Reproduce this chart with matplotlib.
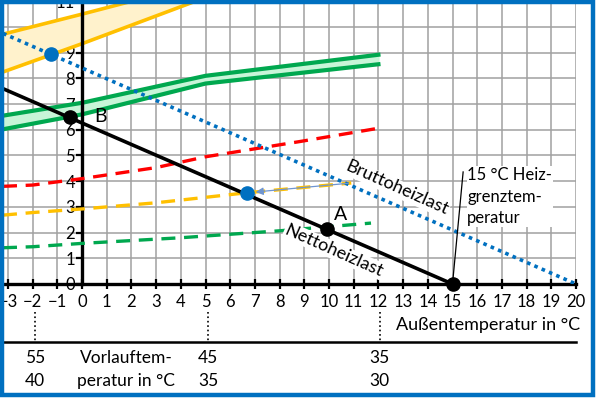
import matplotlib.pyplot as plt
from matplotlib.patches import Rectangle

# Außentemperatur-Achse und Werte
netto_x = [-3.2, 15]
netto_y = [7.6, 0]
brutto_x = [-3.2, 20]
brutto_y = [9.75, 0]

gruen_band_x = [-3.2, 0, 5, 12]
gruen_oben = [6.55, 7.05, 8.1, 8.92]
gruen_unten = [6.02, 6.6, 7.8, 8.55]

gelb_band_x = [-3.2, 0, 5]
gelb_oben = [9.72, 10.5, 11.75]
gelb_unten = [8.25, 9.35, 11.15]

rot_x = [-3.2, -2, 0, 3, 5, 8.8, 12]
rot_y = [3.8, 3.85, 4.1, 4.53, 4.95, 5.54, 6.06]

gelb_x = [-3.2, -2, 0, 3, 6.67, 10.9]
gelb_y = [2.68, 2.78, 2.92, 3.16, 3.55, 3.93]

gruen_x = [-3.2, -2, 0, 4, 8, 11.7]
gruen_y = [1.41, 1.45, 1.58, 1.8, 2.07, 2.37]

punkte_schwarz_x = [-0.5, 9.9, 15]
punkte_schwarz_y = [6.48, 2.13, 0]
punkte_blau_x = [-1.25, 6.67]
punkte_blau_y = [8.93, 3.55]

vorlauf_x = [-1.9, 5.1, 12.05]
vorlauf_oben = ["55", "45", "35"]
vorlauf_unten = ["40", "35", "30"]

plt.rcParams['font.family'] = ['Lato', 'DejaVu Sans']

W, H = 597, 398
fig = plt.figure(figsize=(W / 100, H / 100), dpi=100)
ax = fig.add_axes([3 / W, (H - 284) / H, 573 / W, 284 / H])
ax.set_xlim(-3.2, 20)
ax.set_ylim(0, 11.05)

ax.set_xticks(range(-3, 21))
ax.set_yticks(range(0, 12))
ax.grid(True, color='#a0a0a0', lw=1.1, zorder=0)
ax.set_axisbelow(True)

for s in ['top', 'right']:
    ax.spines[s].set_visible(False)
ax.spines['left'].set_position(('data', 0))
ax.spines['left'].set_linewidth(2.4)
ax.spines['bottom'].set_linewidth(2.4)
ax.tick_params(axis='x', direction='inout', length=7, width=1.6, labelsize=12, pad=4)
ax.tick_params(axis='y', direction='out', length=4, width=1.6, labelsize=12, pad=1)

# Bänder
ax.fill_between(gelb_band_x, gelb_unten, gelb_oben, color='#fff2cc', zorder=1)
ax.plot(gelb_band_x, gelb_oben, color='#ffc000', lw=2.6, zorder=2)
ax.plot(gelb_band_x, gelb_unten, color='#ffc000', lw=2.6, zorder=2)
ax.fill_between(gruen_band_x, gruen_unten, gruen_oben, color='#c8f5d8', zorder=1)
ax.plot(gruen_band_x, gruen_oben, color='#00a84f', lw=3.0, zorder=2)
ax.plot(gruen_band_x, gruen_unten, color='#00a84f', lw=3.0, zorder=2)

# gestrichelte Linien
ax.plot(rot_x, rot_y, color='#ff0000', lw=2.4, ls=(0, (4.2, 2.6)), zorder=3)
ax.plot(gelb_x, gelb_y, color='#ffc000', lw=2.4, ls=(0, (4.2, 2.6)), zorder=3)
ax.plot(gruen_x, gruen_y, color='#00a84f', lw=2.4, ls=(0, (4.2, 2.6)), zorder=3)

ax.plot(brutto_x, brutto_y, color='#0070c0', lw=2.6, ls=(0, (1, 1.2)), zorder=3)
ax.plot(netto_x, netto_y, color='black', lw=2.6, zorder=4)

ax.annotate('', xy=(punkte_blau_x[1] + 0.25, punkte_blau_y[1] + 0.02),
            xytext=(gelb_x[-1], gelb_y[-1]),
            arrowprops=dict(arrowstyle='-|>', color='#6f95d0', lw=0.9,
                            mutation_scale=11), zorder=4)

ax.plot(punkte_schwarz_x, punkte_schwarz_y, 'o', color='black', ms=9.5, zorder=6, clip_on=False)
ax.plot(punkte_blau_x, punkte_blau_y, 'o', color='#0070c0', ms=9.5, zorder=6)

# Beschriftungen im Diagramm
ax.text(0.75, 6.5, 'B', fontsize=14, ha='center', va='center', zorder=7)
ax.text(10.45, 2.72, 'A', fontsize=14, ha='center', va='center', zorder=7)
box = dict(facecolor='white', edgecolor='none', pad=0.5)
ax.text(12.75, 3.72, 'Bruttoheizlast', fontsize=13, rotation=-24,
        ha='center', va='center', bbox=box, zorder=5)
ax.text(10.2, 1.3, 'Nettoheizlast', fontsize=13, rotation=-24,
        ha='center', va='center', bbox=box, zorder=5)
ax.plot([15, 15.43], [0, 4.36], color='black', lw=0.9, zorder=5)
ax.text(15.6, 3.4, '15 °C Heiz-\ngrenztem-\nperatur', fontsize=12,
        ha='left', va='center', linespacing=1.45, bbox=box, zorder=5)

# Bereich unter der Achse
ax.text(20.15, -1.6, 'Außentemperatur in °C', fontsize=13, ha='right', va='center')
ax.plot([-3.4, 20], [-2.26, -2.26], color='black', lw=1.8, clip_on=False)
for x, o, u in zip(vorlauf_x, vorlauf_oben, vorlauf_unten):
    ax.plot([x, x], [-1.1, -2.26], color='black', lw=1.2, ls=':', clip_on=False)
    ax.text(x, -2.86, o, fontsize=12.5, ha='center', va='center')
    ax.text(x, -3.78, u, fontsize=12.5, ha='center', va='center')
ax.text(1.78, -2.86, 'Vorlauftem-', fontsize=12.5, ha='center', va='center')
ax.text(1.78, -3.78, 'peratur in °C', fontsize=12.5, ha='center', va='center')

# blauer Rahmen
fig.add_artist(Rectangle((1.5 / W, 3 / H), (593 - 1.5) / W, (H - 4.5) / H,
                         transform=fig.transFigure, fill=False,
                         edgecolor='#0070c0', lw=3.2))

fig.savefig('out.png', dpi=100)
